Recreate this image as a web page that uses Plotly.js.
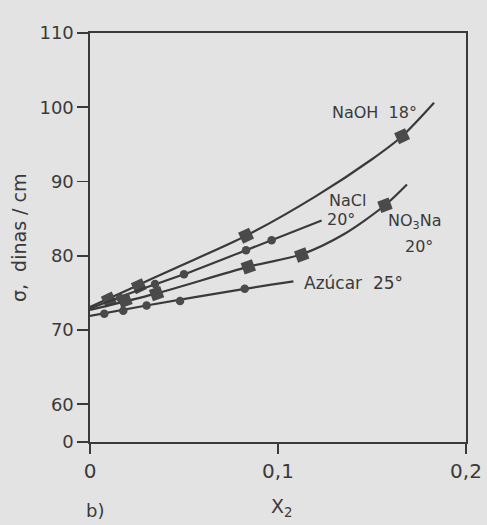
<!DOCTYPE html>
<html>
<head>
<meta charset="utf-8">
<script src="https://cdn.plot.ly/plotly-3.0.1.min.js"></script>
<style>html,body{margin:0;padding:0;background:#e3e3e3;}</style>
</head>
<body>
<div id="chart" style="width:487px;height:525px;"></div>
<script>
// ---- data ----
const naohCurveX = [0, 0.02, 0.045, 0.083, 0.12, 0.15, 0.166, 0.183];
const naohCurveY = [73.1, 75.4, 78.3, 82.7, 88.0, 93.0, 96.1, 100.6];
const naohX = [0.010, 0.026, 0.083, 0.166];
const naohY = [74.1, 75.9, 82.7, 96.1];

const naclCurveX = [0, 0.025, 0.05, 0.083, 0.1232];
const naclCurveY = [72.9, 75.3, 77.5, 80.75, 84.75];
const naclX = [0.016, 0.0346, 0.050, 0.083, 0.0966];
const naclY = [74.3, 76.2, 77.5, 80.75, 82.1];

const no3naCurveX = [0, 0.035, 0.084, 0.1126, 0.135, 0.1569, 0.1686];
const no3naCurveY = [72.7, 74.9, 78.5, 80.2, 82.9, 86.8, 89.6];
const no3naX = [0.0186, 0.0354, 0.0842, 0.1126, 0.1569];
const no3naY = [74.0, 74.9, 78.5, 80.1, 86.8];

const azucarCurveX = [0, 0.03, 0.0823, 0.1082];
const azucarCurveY = [71.9, 73.3, 75.55, 76.55];
const azucarX = [0.0076, 0.0177, 0.0301, 0.0479, 0.0823];
const azucarY = [72.2, 72.6, 73.3, 73.9, 75.55];

const xTickVals = [0, 0.1, 0.2];
const xTickText = ["0", "0,1", "0,2"];
const yTickVals = [54.92, 60, 70, 80, 90, 100, 110];
const yTickText = ["0", "60", "70", "80", "90", "100", "110"];

// ---- styles ----
const ink = '#3a3a3a';
const lineStyle = {color: ink, width: 2.2, shape: 'spline', smoothing: 0.8};

function curve(x, y) {
  return {x: x, y: y, mode: 'lines', line: lineStyle, hoverinfo: 'skip', showlegend: false};
}
function pts(x, y, sym, size, angle) {
  return {x: x, y: y, mode: 'markers', showlegend: false,
    marker: {symbol: sym, size: size, color: '#4a4a4a', angle: angle || 0, line: {width: 0}}};
}

const data = [
  curve(naohCurveX, naohCurveY), pts(naohX, naohY, 'square', 12, -25),
  curve(naclCurveX, naclCurveY), pts(naclX, naclY, 'circle', 8.5),
  curve(no3naCurveX, no3naCurveY), pts(no3naX, no3naY, 'square', 12, -20),
  curve(azucarCurveX, azucarCurveY), pts(azucarX, azucarY, 'circle', 8.5)
];

const font = {family: 'DejaVu Sans, sans-serif', color: ink};
const ann = (x, y, text, size) => ({x: x, y: y, xref: 'x', yref: 'y', text: text,
  showarrow: false, xanchor: 'left', yanchor: 'middle', font: Object.assign({}, font, {size: size || 16})});

const layout = {
  width: 487, height: 525,
  margin: {l: 90, r: 21, t: 33, b: 83, pad: 0},
  paper_bgcolor: '#e3e3e3', plot_bgcolor: '#e3e3e3',
  showlegend: false,
  font: font,
  xaxis: {
    range: [0, 0.2], tickvals: xTickVals, ticktext: xTickText,
    showgrid: false, zeroline: false, showline: true, mirror: true,
    linecolor: ink, linewidth: 1.6, ticks: 'outside', ticklen: 10, tickwidth: 1.6, tickcolor: ink,
    tickfont: {family: 'DejaVu Sans, sans-serif', size: 20, color: ink}
  },
  yaxis: {
    range: [54.92, 110], tickvals: yTickVals, ticktext: yTickText,
    showgrid: false, zeroline: false, showline: true, mirror: true,
    linecolor: ink, linewidth: 1.6, ticks: 'outside', ticklen: 11, tickwidth: 1.6, tickcolor: ink,
    tickfont: {family: 'DejaVu Sans, sans-serif', size: 18, color: ink}
  },
  annotations: [
    ann(0.1277, 99.26, 'NaOH&nbsp;&nbsp;18°'),
    ann(0.1261, 87.44, 'NaCl'),
    ann(0.1250, 84.84, '20°'),
    ann(0.1573, 84.57, 'NO<sub>3</sub>Na'),
    ann(0.1665, 81.24, '20°'),
    ann(0.1128, 76.4, 'Azúcar&nbsp;&nbsp;25°', 17),
    {xref: 'paper', yref: 'paper', x: -0.19, y: 0.5, textangle: -90, showarrow: false,
      xanchor: 'center', yanchor: 'middle', text: 'σ,&nbsp;&nbsp;dinas / cm',
      font: Object.assign({}, font, {size: 19})},
    {xref: 'paper', yref: 'paper', x: 0.51, y: -0.16, showarrow: false,
      xanchor: 'center', yanchor: 'middle', text: 'X<sub>2</sub>',
      font: Object.assign({}, font, {size: 19})},
    {xref: 'paper', yref: 'paper', x: 0.013, y: -0.168, showarrow: false,
      xanchor: 'center', yanchor: 'middle', text: 'b)',
      font: Object.assign({}, font, {size: 18})}
  ]
};

Plotly.newPlot('chart', data, layout, {displayModeBar: false, staticPlot: true});
</script>
</body>
</html>
